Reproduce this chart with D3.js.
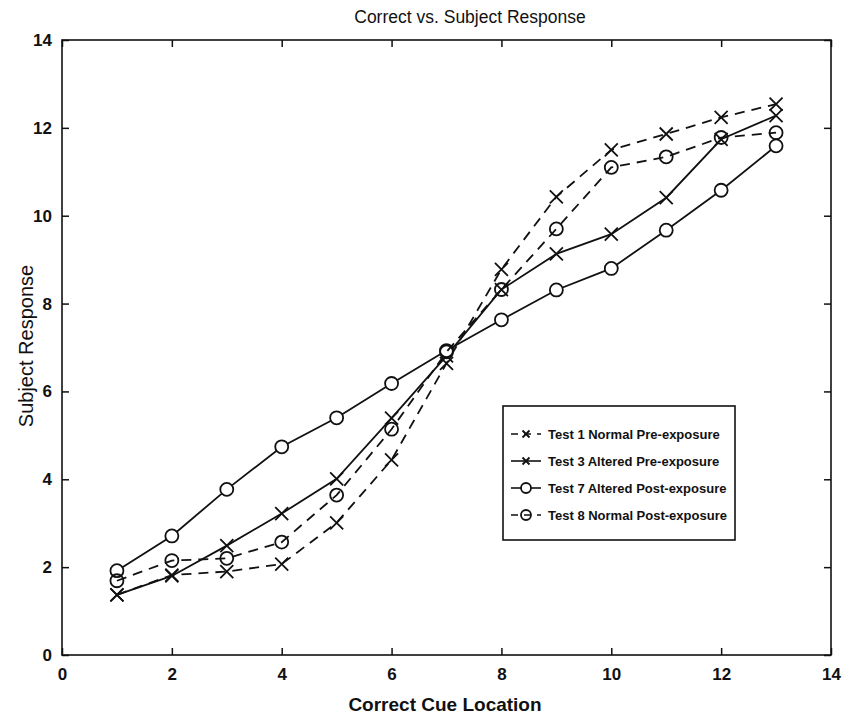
<!DOCTYPE html>
<html>
<head>
<meta charset="utf-8">
<script src="https://cdn.jsdelivr.net/npm/d3@7"></script>
<style>
  html, body { margin: 0; padding: 0; background: #fff; }
  svg { display: block; font-family: "Liberation Sans", Arial, Helvetica, sans-serif; }
</style>
</head>
<body>
<svg id="chart" width="843" height="715"></svg>
<script>
// Cue positions (x) and mean subject responses for each test
const cueLocations = [1, 2, 3, 4, 5, 6, 7, 8, 9, 10, 11, 12, 13];
const test1NormalPre = [1.37, 1.82, 1.90, 2.07, 3.01, 4.44, 6.64, 8.78, 10.43, 11.50, 11.86, 12.24, 12.54];
const test3AlteredPre = [1.37, 1.80, 2.49, 3.22, 4.01, 5.39, 6.81, 8.32, 9.13, 9.58, 10.41, 11.74, 12.28];
const test7AlteredPost = [1.92, 2.71, 3.77, 4.74, 5.40, 6.18, 6.93, 7.63, 8.31, 8.80, 9.67, 10.58, 11.59];
const test8NormalPost = [1.69, 2.15, 2.20, 2.57, 3.64, 5.14, 6.90, 8.32, 9.70, 11.10, 11.34, 11.78, 11.89];

const xTicks = [0, 2, 4, 6, 8, 10, 12, 14];
const yTicks = [0, 2, 4, 6, 8, 10, 12, 14];
const seriesNames = [
  "Test 1 Normal Pre-exposure",
  "Test 3 Altered Pre-exposure",
  "Test 7 Altered Post-exposure",
  "Test 8 Normal Post-exposure"
];

const series = [
  { name: seriesNames[0], values: test1NormalPre, dash: "10,7", marker: "x", fill: "none" },
  { name: seriesNames[1], values: test3AlteredPre, dash: null, marker: "x", fill: "none" },
  { name: seriesNames[2], values: test7AlteredPost, dash: null, marker: "o", fill: "#fff" },
  { name: seriesNames[3], values: test8NormalPost, dash: "10,7", marker: "o", fill: "none" }
];

const svg = d3.select("#chart");
const plot = { left: 62, right: 831, top: 40, bottom: 655 };

const x = d3.scaleLinear().domain([0, 14]).range([plot.left, plot.right]);
const y = d3.scaleLinear().domain([0, 14]).range([plot.bottom, plot.top]);

const ink = "#111";
const tickLen = 7;

// Axes (ticks point into the plot box, on all four sides)
svg.append("g")
  .attr("transform", `translate(0,${plot.bottom})`)
  .call(d3.axisBottom(x).tickValues(xTicks).tickSizeInner(-tickLen).tickSizeOuter(0).tickPadding(13))
  .call(g => g.select(".domain").remove());
svg.append("g")
  .attr("transform", `translate(0,${plot.top})`)
  .call(d3.axisTop(x).tickValues(xTicks).tickSizeInner(-tickLen).tickSizeOuter(0).tickFormat(""))
  .call(g => g.select(".domain").remove());
svg.append("g")
  .attr("transform", `translate(${plot.left},0)`)
  .call(d3.axisLeft(y).tickValues(yTicks).tickSizeInner(-tickLen).tickSizeOuter(0).tickPadding(10))
  .call(g => g.select(".domain").remove());
svg.append("g")
  .attr("transform", `translate(${plot.right},0)`)
  .call(d3.axisRight(y).tickValues(yTicks).tickSizeInner(-tickLen).tickSizeOuter(0).tickFormat(""))
  .call(g => g.select(".domain").remove());

svg.selectAll(".tick line").attr("stroke", ink).attr("stroke-width", 1.5);
svg.selectAll(".tick text")
  .attr("fill", ink)
  .style("font-size", "17px")
  .style("font-weight", "bold");

// Plot box
svg.append("rect")
  .attr("x", plot.left).attr("y", plot.top)
  .attr("width", plot.right - plot.left).attr("height", plot.bottom - plot.top)
  .attr("fill", "none").attr("stroke", ink).attr("stroke-width", 1.6);

// Series lines
const line = d3.line().x((d, i) => x(cueLocations[i])).y(d => y(d));
const markerSize = 6.5;

function drawMarker(g, type, cx, cy, r, fill) {
  if (type === "x") {
    g.append("path")
      .attr("d", `M${cx - r},${cy - r}L${cx + r},${cy + r}M${cx - r},${cy + r}L${cx + r},${cy - r}`)
      .attr("stroke", ink).attr("stroke-width", 1.8).attr("fill", "none");
  } else {
    g.append("circle")
      .attr("cx", cx).attr("cy", cy).attr("r", r)
      .attr("stroke", ink).attr("stroke-width", 1.8).attr("fill", fill);
  }
}

series.forEach(s => {
  const g = svg.append("g");
  g.append("path")
    .datum(s.values)
    .attr("d", line)
    .attr("fill", "none")
    .attr("stroke", ink)
    .attr("stroke-width", 1.8)
    .attr("stroke-dasharray", s.dash);
  s.values.forEach((v, i) => drawMarker(g, s.marker, x(cueLocations[i]), y(v), markerSize, s.fill));
});

// Legend
const legend = { left: 503, top: 406, width: 232, height: 134 };
svg.append("rect")
  .attr("x", legend.left).attr("y", legend.top)
  .attr("width", legend.width).attr("height", legend.height)
  .attr("fill", "#fff").attr("stroke", ink).attr("stroke-width", 1.6);

series.forEach((s, i) => {
  const ly = legend.top + 28 + i * 27;
  const g = svg.append("g");
  g.append("line")
    .attr("x1", legend.left + 8).attr("x2", legend.left + 38)
    .attr("y1", ly).attr("y2", ly)
    .attr("stroke", ink).attr("stroke-width", 1.6)
    .attr("stroke-dasharray", s.dash ? "7,6" : null);
  drawMarker(g, s.marker, legend.left + 23, ly, s.marker === "x" ? 3.5 : 5, s.fill);
  g.append("text")
    .attr("x", legend.left + 45).attr("y", ly)
    .attr("dy", "0.35em")
    .attr("fill", ink)
    .style("font-size", "13px")
    .style("font-weight", "bold")
    .text(s.name);
});

// Titles
svg.append("text")
  .attr("x", 470).attr("y", 23)
  .attr("text-anchor", "middle")
  .attr("fill", ink)
  .style("font-size", "17.5px")
  .text("Correct vs. Subject Response");

svg.append("text")
  .attr("x", 445).attr("y", 711)
  .attr("text-anchor", "middle")
  .attr("fill", ink)
  .style("font-size", "19px")
  .style("font-weight", "bold")
  .text("Correct Cue Location");

svg.append("text")
  .attr("transform", `translate(26,346) rotate(-90)`)
  .attr("text-anchor", "middle")
  .attr("dy", "0.35em")
  .attr("fill", ink)
  .style("font-size", "20px")
  .text("Subject Response");
</script>
</body>
</html>
